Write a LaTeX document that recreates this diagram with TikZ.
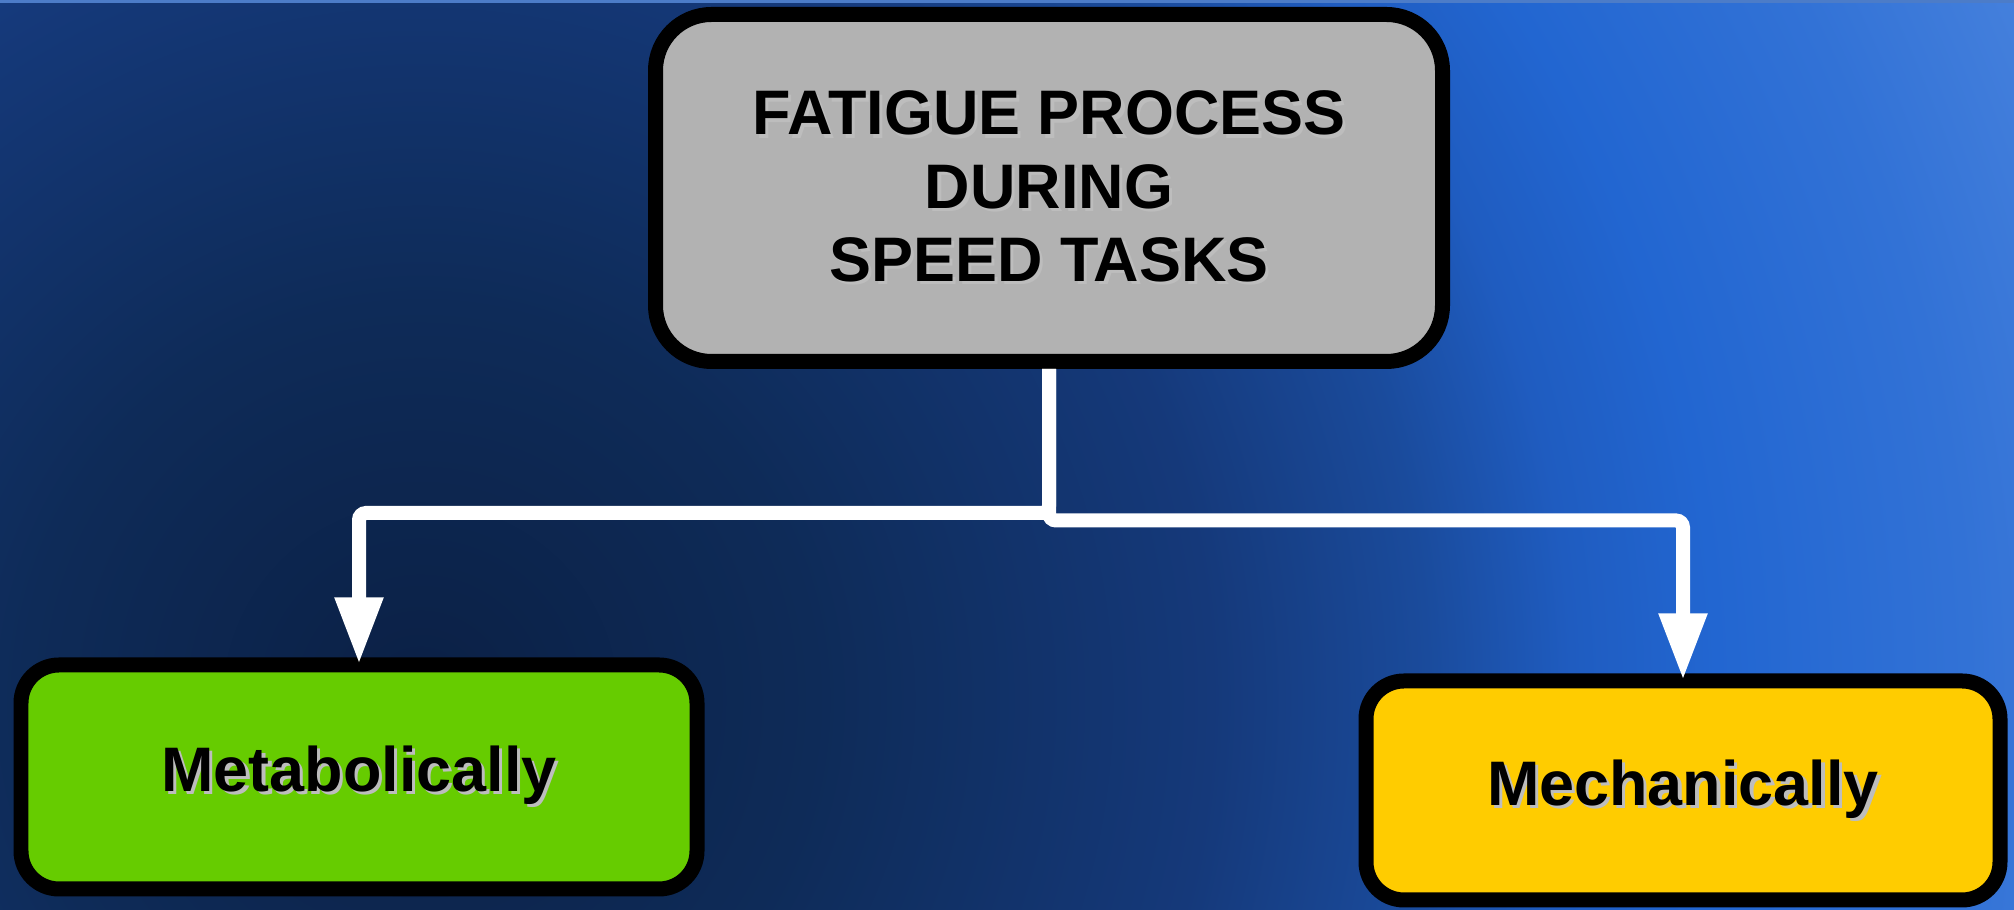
\documentclass[tikz,border=0pt]{standalone}
\usepackage{fontspec}
\setmainfont{Liberation Sans}
\usetikzlibrary{arrows.meta}

\definecolor{bgA}{HTML}{0B2045}
\definecolor{bgB}{HTML}{0E2B58}
\definecolor{bgC}{HTML}{15397A}
\definecolor{bgD}{HTML}{1A4B9C}
\definecolor{bgE}{HTML}{1F5CC0}
\definecolor{bgF}{HTML}{2266D1}
\definecolor{bgG}{HTML}{3272D6}
\definecolor{bgH}{HTML}{4A84DE}
\definecolor{bgedge}{HTML}{4C7CC8}
\definecolor{boxgray}{HTML}{B2B2B2}
\definecolor{boxgreen}{HTML}{66CC00}
\definecolor{boxyellow}{HTML}{FFCC00}
\definecolor{txtshadow}{HTML}{BDBDBD}

\pgfdeclareradialshading{bgglow}{\pgfpoint{0bp}{0bp}}{color(0bp)=(bgA); color(5.5bp)=(bgB); color(11bp)=(bgC); color(14bp)=(bgD); color(16bp)=(bgE); color(18bp)=(bgF); color(21.5bp)=(bgG); color(25bp)=(bgH); color(50bp)=(bgH)}

\newcommand\shadowed[1]{\makebox[0pt][l]{\kern0.9pt\raisebox{-0.9pt}{\color{txtshadow}#1}}#1}

\tikzset{
    stage/.style={draw=black, line width=0.15cm, inner sep=0pt, align=center,
        font=\fontsize{17.9}{20.8}\selectfont\bfseries},
    link/.style={draw=white, line width=0.14cm, rounded corners=2pt, shorten >=-0.07cm,
        -{Triangle[length=0.67cm,width=0.45cm]}}
}

\begin{document}
\begin{tikzpicture}
    \useasboundingbox (0,0) rectangle (20.14,9.10);

    % Background
    \begin{scope}
        \clip (0,0) rectangle (20.14,9.10);
        \shade[shading=bgglow] (4.2,2.1) circle (18);
        \fill[bgedge] (0,9.07) rectangle (20.14,9.10);
    \end{scope}

    % Boxes
    \node[stage, fill=boxgray, rounded corners=0.56cm, minimum width=7.87cm, minimum height=3.47cm] (fatigue) at (10.49,7.22)
        {\shadowed{FATIGUE PROCESS}\\ \shadowed{DURING}\\ \shadowed{SPEED TASKS}};
    \node[stage, fill=boxgreen, rounded corners=0.38cm, minimum width=6.76cm, minimum height=2.24cm] (meta) at (3.59,1.33)
        {\shadowed{Metabolically}};
    \node[stage, fill=boxyellow, rounded corners=0.38cm, minimum width=6.34cm, minimum height=2.19cm] (mech) at (16.83,1.195)
        {\shadowed{Mechanically}};

    % Connectors
    \draw[link] (fatigue.south) -- (fatigue.south |- 0,3.97) -| (meta.north);
    \draw[link] (fatigue.south) -- (fatigue.south |- 0,3.895) -| (mech.north);
\end{tikzpicture}
\end{document}
